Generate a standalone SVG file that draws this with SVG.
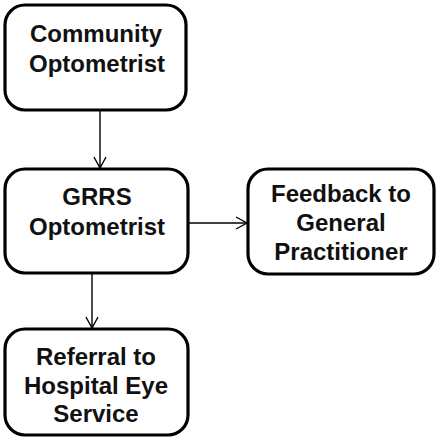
<svg xmlns="http://www.w3.org/2000/svg" width="437" height="440" viewBox="0 0 437 440">
<style>
.box{fill:#fff;stroke:#000;stroke-width:3.2}
.t{font-family:"Liberation Sans",Arial,sans-serif;font-weight:bold;font-size:24px;fill:#111;text-anchor:middle}
.c{stroke:#000;stroke-width:1.4;fill:none}
</style>
<defs>
<marker id="arr" markerWidth="14" markerHeight="14" refX="12" refY="7" orient="auto" markerUnits="userSpaceOnUse">
<path d="M1,1 L12,7 L1,13" fill="none" stroke="#000" stroke-width="1.4"/>
</marker>
</defs>
<rect width="437" height="440" fill="#fff"/>
<g id="connectors">
<line class="c" x1="100" y1="110" x2="100" y2="168" marker-end="url(#arr)"/>
<line class="c" x1="188" y1="223" x2="247" y2="223" marker-end="url(#arr)"/>
<line class="c" x1="92" y1="273" x2="92" y2="328" marker-end="url(#arr)"/>
</g>
<g id="community">
<rect class="box" x="5" y="5" width="181" height="105" rx="20"/>
<text class="t" x="96" y="42">Community</text>
<text class="t" x="97" y="72">Optometrist</text>
</g>
<g id="grrs">
<rect class="box" x="5" y="169" width="183" height="104" rx="20"/>
<text class="t" x="97" y="205">GRRS</text>
<text class="t" x="97" y="235">Optometrist</text>
</g>
<g id="feedback">
<rect class="box" x="248" y="169" width="186" height="105" rx="20"/>
<text class="t" x="341" y="202">Feedback to</text>
<text class="t" x="341" y="231">General</text>
<text class="t" x="341" y="260">Practitioner</text>
</g>
<g id="referral">
<rect class="box" x="5" y="329" width="183" height="106" rx="20"/>
<text class="t" x="96" y="365">Referral to</text>
<text class="t" x="96" y="394">Hospital Eye</text>
<text class="t" x="96" y="422">Service</text>
</g>
</svg>
